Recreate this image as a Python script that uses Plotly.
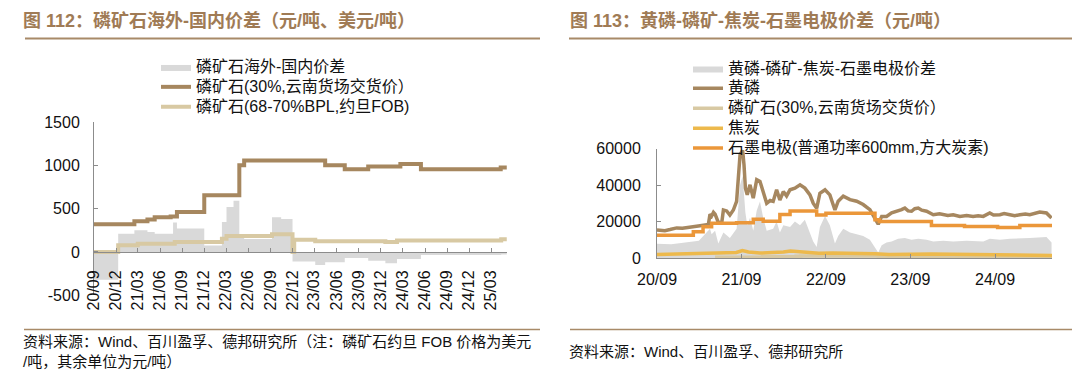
import plotly.graph_objects as go

# page has an 8px body margin: figure is drawn 8px in from the top-left corner
OFF = 8
W, H = 1080 - OFF, 370 - OFF
FONT = "Liberation Sans, Arial, Noto Sans CJK SC"

def fx(px):
    return (px - OFF) / W

def fy(py):
    return 1 - (py - OFF) / H

# ---------------- Left chart data (图112) ----------------
left_tick_vals = ["2020-09-01", "2020-12-01", "2021-03-01", "2021-06-01", "2021-09-01",
                  "2021-12-01", "2022-03-01", "2022-06-01", "2022-09-01", "2022-12-01",
                  "2023-03-01", "2023-06-01", "2023-09-01", "2023-12-01", "2024-03-01",
                  "2024-06-01", "2024-09-01", "2024-12-01", "2025-03-01"]
left_tick_text = ["20/09", "20/12", "21/03", "21/06", "21/09", "21/12", "22/03", "22/06",
                  "22/09", "22/12", "23/03", "23/06", "23/09", "23/12", "24/03", "24/06",
                  "24/09", "24/12", "25/03"]
left_y_ticks = [-500, 0, 500, 1000, 1500]
left_y_text = ["-500", "0", "500", "1000", "1500"]

dom_dates = ["2020-09-01", "2021-02-15", "2021-04-10", "2021-05-10", "2021-07-15", "2021-08-10",
             "2021-12-01", "2022-04-25", "2022-05-15", "2023-04-15", "2023-07-05", "2023-10-10",
             "2024-02-20", "2024-05-15", "2025-04-10", "2025-05-05"]
dom_vals = [320, 355, 375, 400, 410, 460, 655, 1000, 1055, 1000, 955, 985, 1015, 955, 975, 975]

fob_dates = ["2020-09-01", "2020-12-10", "2021-03-01", "2021-08-01", "2022-02-12", "2022-03-03",
             "2022-09-07", "2022-12-01", "2022-12-08", "2023-03-05", "2023-12-20", "2024-02-06",
             "2025-04-12", "2025-05-05"]
fob_vals = [0, 78, 96, 115, 154, 185, 204, 0, 142, 123, 115, 131, 146, 146]

gap_dates = ["2020-09-01", "2020-12-10", "2021-02-15", "2021-04-10", "2021-05-10", "2021-07-25",
             "2021-08-10", "2021-12-01", "2022-02-12", "2022-03-03", "2022-04-01", "2022-04-25",
             "2022-05-15", "2022-09-07", "2022-10-15", "2022-12-01", "2023-03-05", "2023-04-15",
             "2023-07-05", "2023-10-10", "2023-12-20", "2024-02-06", "2024-05-15", "2025-04-12",
             "2025-05-05"]
gap_vals = [-320, 210, 250, 230, 210, 340, 270, 75, 345, 520, 590, 180, 150, 400, 380, -110,
            -150, -120, -70, -100, -130, -80, -35, -30, -30]

# ---------------- Right chart data (图113) ----------------
right_tick_vals = ["2020-09-01", "2021-09-01", "2022-09-01", "2023-09-01", "2024-09-01"]
right_tick_text = ["20/09", "21/09", "22/09", "23/09", "24/09"]
right_y_ticks = [0, 20000, 40000, 60000]
right_y_text = ["0", "20000", "40000", "60000"]

yp_dates = ["2020-09-01", "2020-10-05", "2020-10-27", "2020-11-25", "2020-12-20", "2021-01-22",
            "2021-02-15", "2021-03-06", "2021-04-11", "2021-04-18", "2021-04-25", "2021-05-03",
            "2021-05-10", "2021-05-24", "2021-06-08", "2021-06-15", "2021-06-29", "2021-07-13",
            "2021-07-28", "2021-08-11", "2021-08-26", "2021-09-06", "2021-09-12", "2021-09-18",
            "2021-09-26", "2021-10-08", "2021-10-22", "2021-11-06", "2021-11-20", "2021-12-04",
            "2021-12-19", "2022-01-03", "2022-01-16", "2022-01-31", "2022-02-14", "2022-03-01",
            "2022-03-15", "2022-03-30", "2022-04-20", "2022-05-12", "2022-06-02", "2022-06-24",
            "2022-07-08", "2022-07-23", "2022-08-06", "2022-08-28", "2022-09-18", "2022-10-10",
            "2022-10-24", "2022-11-15", "2022-12-14", "2023-01-12", "2023-02-09", "2023-03-10",
            "2023-04-01", "2023-04-15", "2023-04-30", "2023-05-21", "2023-06-12", "2023-07-10",
            "2023-07-25", "2023-08-08", "2023-08-22", "2023-09-06", "2023-09-20", "2023-10-05",
            "2023-10-20", "2023-11-10", "2023-12-09", "2024-01-05", "2024-01-21", "2024-02-10",
            "2024-03-04", "2024-04-02", "2024-05-01", "2024-05-29", "2024-06-20", "2024-07-12",
            "2024-08-09", "2024-08-25", "2024-09-22", "2024-10-10", "2024-11-04", "2024-11-25",
            "2024-12-17", "2025-01-10", "2025-01-29", "2025-02-20", "2025-03-13", "2025-04-11",
            "2025-05-03"]
yp_vals = [15300, 15000, 15600, 16500, 16300, 17100, 17300, 17700, 18400, 24000, 23000, 25000,
           24000, 19500, 19500, 26300, 25800, 23500, 26300, 31000, 56700, 59000, 51000, 38300,
           34600, 40100, 32800, 42900, 42000, 35500, 30000, 31500, 31000, 37400, 31800, 36400,
           34000, 37400, 38300, 40100, 38300, 34600, 30000, 27200, 35500, 37400, 34600, 26300,
           31100, 33900, 32000, 31100, 29300, 26500, 21900, 18500, 22800, 22800, 24700, 25600,
           26500, 27400, 25800, 25600, 27000, 27400, 26200, 25600, 23700, 24200, 23700, 23300,
           23700, 22800, 23300, 22800, 23200, 22800, 24700, 23600, 23700, 24300, 23700, 23200,
           23700, 24100, 23700, 24600, 25200, 24700, 21900]

ge_dates = ["2020-09-01", "2021-02-05", "2021-03-19", "2021-04-25", "2021-08-11", "2021-10-22",
            "2021-12-04", "2022-02-14", "2022-03-30", "2022-07-23", "2022-09-01", "2023-04-01",
            "2023-04-20", "2023-12-01", "2024-04-22", "2024-09-12", "2024-12-17", "2025-05-05"]
ge_vals = [12500, 14400, 17100, 19000, 19300, 21200, 20200, 23900, 25800, 23500, 24500, 21000,
           20000, 17800, 17300, 16700, 17800, 17800]

coke_dates = ["2020-09-01", "2020-12-01", "2021-03-01", "2021-06-01", "2021-08-10", "2021-09-05",
              "2021-10-01", "2021-11-20", "2022-01-01", "2022-03-01", "2022-04-01", "2022-05-10",
              "2022-08-01", "2022-10-01", "2023-01-01", "2023-04-01", "2023-06-01", "2023-09-01",
              "2023-12-01", "2024-03-01", "2024-06-01", "2024-09-01", "2025-01-01", "2025-05-05"]
coke_vals = [1900, 2200, 2300, 2500, 3000, 4100, 3300, 2700, 2800, 3300, 3800, 3300, 2600, 2800,
             2700, 2300, 1900, 2100, 2200, 2000, 1900, 1700, 1600, 1400]

rock_dates = ["2021-05-10", "2021-07-15", "2021-08-10", "2021-12-01", "2022-04-25", "2022-05-15",
              "2023-04-15", "2023-07-05", "2023-10-10", "2024-02-20", "2024-05-15", "2025-04-10",
              "2025-05-05"]
rock_vals = [400, 410, 460, 655, 1000, 1055, 1000, 955, 985, 1015, 955, 975, 975]

spread_dates = ["2020-09-01", "2020-11-01", "2021-01-01", "2021-03-01", "2021-04-18", "2021-04-25",
                "2021-05-10", "2021-05-24", "2021-06-15", "2021-07-13", "2021-08-11", "2021-08-26",
                "2021-09-06", "2021-09-18", "2021-09-26", "2021-10-08", "2021-10-22", "2021-11-06",
                "2021-11-20", "2021-12-04", "2021-12-19", "2022-01-16", "2022-01-31", "2022-02-14",
                "2022-03-01", "2022-03-30", "2022-04-20", "2022-05-12", "2022-06-02", "2022-06-24",
                "2022-07-08", "2022-07-23", "2022-08-06", "2022-08-28", "2022-09-18", "2022-10-10",
                "2022-10-24", "2022-11-15", "2022-12-14", "2023-01-12", "2023-02-09", "2023-03-10",
                "2023-04-01", "2023-04-15", "2023-04-30", "2023-05-21", "2023-06-12", "2023-07-10",
                "2023-08-08", "2023-09-06", "2023-10-05", "2023-11-10", "2023-12-09", "2024-01-21",
                "2024-03-04", "2024-05-01", "2024-07-12", "2024-08-09", "2024-09-22", "2024-11-04",
                "2025-01-29", "2025-03-13", "2025-04-11", "2025-05-03"]
spread_vals = [7800, 7500, 8500, 9500, 16000, 13000, 15000, 8000, 14000, 11000, 16000, 40000,
               45000, 25000, 18000, 22000, 15000, 26000, 31000, 22000, 15000, 16000, 20000, 14000,
               18000, 17000, 20000, 18000, 21000, 14000, 9000, 6000, 17000, 23000, 18000, 8000,
               12000, 16000, 14000, 13000, 12000, 10000, 6000, 3000, 7000, 8500, 9000, 10500,
               11000, 10000, 10500, 10000, 9000, 9500, 9000, 9500, 9000, 10500, 10000, 10500,
               11000, 11500, 11500, 8500]

# ---------------- Colours ----------------
C_BROWN = "#A6875F"
C_BEIGE = "#D8C9A3"
C_GREY = "#D9D9D9"
C_YELLOW = "#EDB94C"
C_ORANGE = "#EB973A"
C_TITLE = "#A07B55"
C_RULE = "#A88A68"

def lg(name):
    return f'<span style="font-size:16px">{name}</span>'

fig = go.Figure()

# Left traces
fig.add_trace(go.Scatter(x=gap_dates, y=gap_vals, name=lg("磷矿石海外-国内价差"), mode="lines",
                         line=dict(width=0, shape="hv", color=C_GREY), fill="tozeroy",
                         fillcolor=C_GREY, xaxis="x", yaxis="y", legend="legend"))
fig.add_trace(go.Scatter(x=dom_dates, y=dom_vals, name=lg("磷矿石(30%,云南货场交货价）"), mode="lines",
                         line=dict(width=4, shape="hv", color=C_BROWN), xaxis="x", yaxis="y",
                         legend="legend"))
fig.add_trace(go.Scatter(x=fob_dates, y=fob_vals, name=lg("磷矿石(68-70%BPL,约旦FOB)"), mode="lines",
                         line=dict(width=4, shape="hv", color=C_BEIGE), xaxis="x", yaxis="y",
                         legend="legend"))

# Right traces
fig.add_trace(go.Scatter(x=spread_dates, y=spread_vals, name=lg("黄磷-磷矿-焦炭-石墨电极价差"), mode="lines",
                         line=dict(width=0, color=C_GREY), fill="tozeroy", fillcolor=C_GREY,
                         xaxis="x2", yaxis="y2", legend="legend2"))
fig.add_trace(go.Scatter(x=yp_dates, y=yp_vals, name=lg("黄磷"), mode="lines",
                         line=dict(width=3.5, color=C_BROWN), xaxis="x2", yaxis="y2", legend="legend2"))
fig.add_trace(go.Scatter(x=rock_dates, y=rock_vals, name=lg("磷矿石(30%,云南货场交货价）"), mode="lines",
                         line=dict(width=3.5, shape="hv", color=C_BEIGE), xaxis="x2", yaxis="y2",
                         legend="legend2"))
fig.add_trace(go.Scatter(x=coke_dates, y=coke_vals, name=lg("焦炭"), mode="lines",
                         line=dict(width=3.5, color=C_YELLOW), xaxis="x2", yaxis="y2", legend="legend2"))
fig.add_trace(go.Scatter(x=ge_dates, y=ge_vals, name=lg("石墨电极(普通功率600mm,方大炭素)"), mode="lines",
                         line=dict(width=3.5, shape="hv", color=C_ORANGE), xaxis="x2", yaxis="y2",
                         legend="legend2"))

axis_common = dict(showgrid=False, zeroline=False, showline=True, linecolor="#8C8C8C", linewidth=1,
                   ticks="inside", ticklen=4, tickcolor="#8C8C8C", automargin=False,
                   tickfont=dict(family=FONT, size=16, color="#111111"))

# left y: -500..1500 at py 295.3..122
ly0, ly1 = 295.3, 122.0
zero_py = ly0 - (0 - (-500)) / 2000 * (ly0 - ly1)

legend_font = dict(family=FONT, size=13, color="#111111")

fig.update_layout(
    width=W, height=H, margin=dict(l=0, r=0, t=0, b=0, pad=0, autoexpand=False),
    paper_bgcolor="white", plot_bgcolor="white", showlegend=True,
    xaxis=dict(domain=[fx(94), fx(507)], range=["2020-09-01", "2025-05-06"], type="date",
               anchor="free", position=fy(zero_py), tickvals=left_tick_vals, ticktext=left_tick_text,
               tickangle=-90, ticklabelstandoff=11, **axis_common),
    yaxis=dict(domain=[fy(ly0), fy(ly1)], range=[-500, 1500], tickvals=left_y_ticks,
               ticktext=left_y_text, anchor="x", ticklabelstandoff=10, **axis_common),
    xaxis2=dict(domain=[fx(657), fx(1052)], range=["2020-09-01", "2025-05-05"], type="date",
                anchor="y2", tickvals=right_tick_vals, ticktext=right_tick_text,
                ticklabelstandoff=7, **axis_common),
    yaxis2=dict(domain=[fy(258), fy(148.5)], range=[0, 60000], tickvals=right_y_ticks,
                ticktext=right_y_text, anchor="x2", ticklabelstandoff=12, **axis_common),
    legend=dict(x=fx(156), y=fy(52), xanchor="left", yanchor="top", bgcolor="rgba(0,0,0,0)",
                font=legend_font, tracegroupgap=0, itemwidth=30),
    legend2=dict(x=fx(688), y=fy(53.5), xanchor="left", yanchor="top", bgcolor="rgba(0,0,0,0)",
                 font=legend_font, tracegroupgap=0, itemwidth=30),
)

shapes = [
    dict(type="line", xref="paper", yref="paper", x0=fx(25), x1=fx(540), y0=fy(38.5), y1=fy(38.5),
         line=dict(color=C_RULE, width=2)),
    dict(type="line", xref="paper", yref="paper", x0=fx(569), x1=fx(1080), y0=fy(38.5), y1=fy(38.5),
         line=dict(color=C_RULE, width=2)),
    dict(type="line", xref="paper", yref="paper", x0=fx(24), x1=fx(540), y0=fy(329.5), y1=fy(329.5),
         line=dict(color=C_RULE, width=1.5)),
    dict(type="line", xref="paper", yref="paper", x0=fx(570), x1=fx(1080), y0=fy(329.5), y1=fy(329.5),
         line=dict(color=C_RULE, width=1.5)),
]
fig.update_layout(shapes=shapes)

def ann(text, x, y, size, color="#111111", bold=False):
    t = f"<b>{text}</b>" if bold else text
    return dict(text=t, xref="paper", yref="paper", x=fx(x), y=fy(y), xanchor="left",
                yanchor="middle", showarrow=False, font=dict(family=FONT, size=size, color=color))

annotations = [
    ann("图 112：磷矿石海外-国内价差（元/吨、美元/吨）", 21, 20, 18, C_TITLE, True),
    ann("图 113：黄磷-磷矿-焦炭-石墨电极价差（元/吨）", 568, 20, 18, C_TITLE, True),
    ann("资料来源：Wind、百川盈孚、德邦研究所（注：磷矿石约旦 FOB 价格为美元", 21, 341, 15),
    ann("/吨，其余单位为元/吨）", 21, 361, 15),
    ann("资料来源：Wind、百川盈孚、德邦研究所", 567, 351, 15),
]
fig.update_layout(annotations=annotations)

fig.write_html("out.html")
